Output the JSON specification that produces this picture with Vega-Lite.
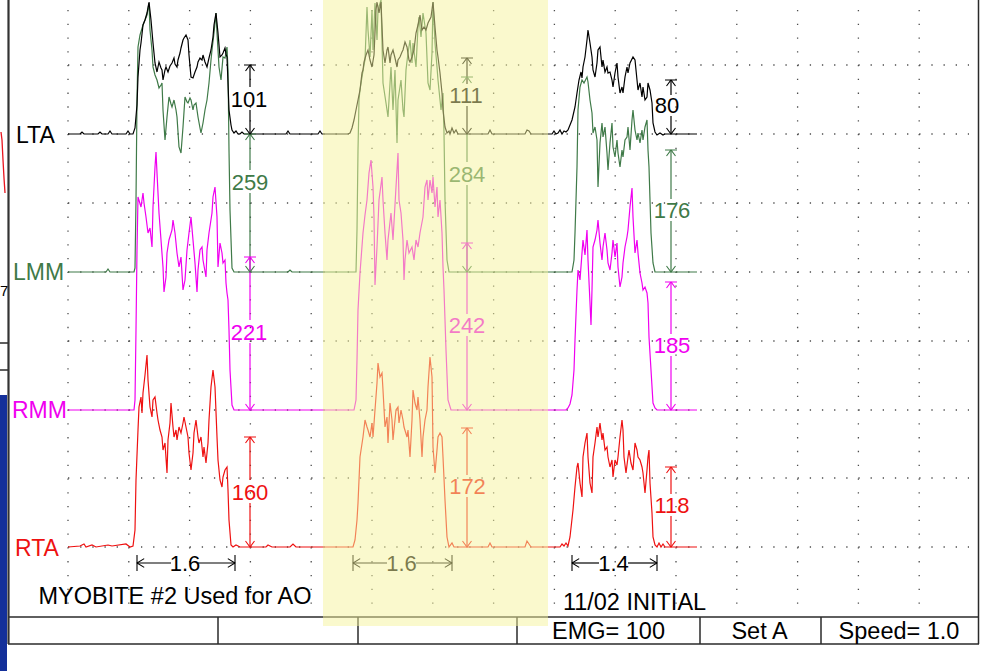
{
"$schema": "https://vega.github.io/schema/vega-lite/v6.json",
"width": 986, "height": 671,
"autosize": {"type": "none"},
"padding": 0,
"background": "#ffffff",
"config": {"view": {"stroke": null}},
"encoding": {
 "x": {"field": "x", "type": "quantitative", "scale": {"domain": [0, 986], "nice": false, "zero": false}, "axis": null},
 "y": {"field": "y", "type": "quantitative", "scale": {"domain": [0, 671], "nice": false, "zero": false, "reverse": true}, "axis": null}
},
"datasets": {
 "LTA": [{"x":68,"y":134},{"x":80,"y":134},{"x":82,"y":132},{"x":84,"y":134},{"x":98,"y":134},{"x":100,"y":132},{"x":102,"y":134},{"x":108,"y":134},{"x":110,"y":131},{"x":112,"y":134},{"x":126,"y":134},{"x":128,"y":131},{"x":130,"y":134},{"x":133,"y":134},{"x":135,"y":128},{"x":137,"y":105},{"x":138,"y":77},{"x":140,"y":50},{"x":141,"y":43},{"x":143,"y":25},{"x":145,"y":20},{"x":147,"y":13},{"x":149,"y":2},{"x":151,"y":20},{"x":153,"y":43},{"x":155,"y":63},{"x":157,"y":72},{"x":159,"y":62},{"x":161,"y":68},{"x":162,"y":70},{"x":163,"y":80},{"x":165,"y":70},{"x":166,"y":67},{"x":168,"y":72},{"x":170,"y":66},{"x":172,"y":63},{"x":174,"y":58},{"x":175,"y":64},{"x":177,"y":67},{"x":178,"y":60},{"x":180,"y":53},{"x":181,"y":48},{"x":183,"y":40},{"x":184,"y":38},{"x":186,"y":35},{"x":188,"y":40},{"x":189,"y":55},{"x":191,"y":77},{"x":193,"y":78},{"x":195,"y":72},{"x":197,"y":67},{"x":198,"y":62},{"x":200,"y":58},{"x":202,"y":60},{"x":203,"y":55},{"x":205,"y":62},{"x":207,"y":67},{"x":209,"y":58},{"x":211,"y":50},{"x":213,"y":37},{"x":214,"y":25},{"x":216,"y":13},{"x":218,"y":33},{"x":220,"y":57},{"x":222,"y":55},{"x":223,"y":53},{"x":225,"y":48},{"x":226,"y":54},{"x":227,"y":57},{"x":228,"y":83},{"x":229,"y":110},{"x":231,"y":125},{"x":232,"y":130},{"x":234,"y":133},{"x":236,"y":131},{"x":238,"y":134},{"x":240,"y":134},{"x":242,"y":132},{"x":244,"y":134},{"x":286,"y":134},{"x":288,"y":131},{"x":290,"y":134},{"x":318,"y":134},{"x":320,"y":131},{"x":322,"y":134},{"x":348,"y":134},{"x":350,"y":133},{"x":352,"y":128},{"x":354,"y":120},{"x":356,"y":110},{"x":358,"y":100},{"x":360,"y":90},{"x":362,"y":73},{"x":363,"y":70},{"x":364,"y":62},{"x":366,"y":55},{"x":368,"y":50},{"x":370,"y":60},{"x":372,"y":67},{"x":374,"y":55},{"x":376,"y":10},{"x":377,"y":2},{"x":379,"y":13},{"x":381,"y":2},{"x":383,"y":50},{"x":385,"y":63},{"x":387,"y":50},{"x":388,"y":47},{"x":390,"y":63},{"x":391,"y":55},{"x":393,"y":50},{"x":395,"y":58},{"x":397,"y":67},{"x":398,"y":60},{"x":400,"y":57},{"x":402,"y":52},{"x":403,"y":50},{"x":405,"y":42},{"x":407,"y":47},{"x":409,"y":60},{"x":410,"y":62},{"x":412,"y":57},{"x":414,"y":50},{"x":416,"y":33},{"x":418,"y":25},{"x":420,"y":15},{"x":422,"y":30},{"x":424,"y":27},{"x":426,"y":30},{"x":428,"y":23},{"x":431,"y":17},{"x":433,"y":2},{"x":435,"y":27},{"x":437,"y":50},{"x":438,"y":57},{"x":440,"y":73},{"x":442,"y":93},{"x":443,"y":110},{"x":445,"y":127},{"x":447,"y":133},{"x":449,"y":131},{"x":450,"y":134},{"x":452,"y":128},{"x":454,"y":133},{"x":456,"y":130},{"x":458,"y":134},{"x":488,"y":134},{"x":490,"y":130},{"x":492,"y":134},{"x":525,"y":134},{"x":527,"y":130},{"x":529,"y":131},{"x":531,"y":134},{"x":552,"y":134},{"x":554,"y":131},{"x":556,"y":134},{"x":558,"y":133},{"x":560,"y":130},{"x":562,"y":134},{"x":564,"y":131},{"x":566,"y":132},{"x":568,"y":130},{"x":570,"y":125},{"x":572,"y":120},{"x":575,"y":107},{"x":577,"y":93},{"x":579,"y":80},{"x":581,"y":72},{"x":582,"y":78},{"x":583,"y":67},{"x":585,"y":57},{"x":587,"y":40},{"x":588,"y":30},{"x":590,"y":43},{"x":592,"y":57},{"x":593,"y":70},{"x":595,"y":77},{"x":597,"y":63},{"x":598,"y":50},{"x":600,"y":47},{"x":602,"y":67},{"x":603,"y":60},{"x":605,"y":72},{"x":607,"y":67},{"x":608,"y":73},{"x":610,"y":72},{"x":612,"y":80},{"x":613,"y":87},{"x":615,"y":73},{"x":617,"y":63},{"x":618,"y":77},{"x":620,"y":93},{"x":622,"y":87},{"x":623,"y":93},{"x":625,"y":77},{"x":627,"y":67},{"x":628,"y":73},{"x":630,"y":63},{"x":633,"y":57},{"x":635,"y":60},{"x":637,"y":80},{"x":638,"y":90},{"x":640,"y":83},{"x":642,"y":97},{"x":643,"y":87},{"x":645,"y":100},{"x":647,"y":97},{"x":648,"y":83},{"x":650,"y":90},{"x":652,"y":103},{"x":653,"y":123},{"x":655,"y":132},{"x":657,"y":135},{"x":660,"y":133},{"x":663,"y":135},{"x":665,"y":134},{"x":697,"y":134}],
 "LMM": [{"x":68,"y":272},{"x":106,"y":272},{"x":108,"y":269},{"x":110,"y":272},{"x":134,"y":272},{"x":135,"y":268},{"x":136,"y":200},{"x":137,"y":100},{"x":138,"y":47},{"x":140,"y":35},{"x":143,"y":25},{"x":145,"y":20},{"x":147,"y":15},{"x":149,"y":3},{"x":150,"y":30},{"x":152,"y":50},{"x":153,"y":67},{"x":155,"y":75},{"x":157,"y":80},{"x":159,"y":88},{"x":161,"y":85},{"x":162,"y":83},{"x":163,"y":110},{"x":165,"y":140},{"x":167,"y":117},{"x":169,"y":97},{"x":171,"y":104},{"x":172,"y":107},{"x":174,"y":100},{"x":176,"y":110},{"x":177,"y":117},{"x":179,"y":147},{"x":181,"y":153},{"x":183,"y":127},{"x":185,"y":97},{"x":187,"y":102},{"x":188,"y":103},{"x":190,"y":98},{"x":191,"y":100},{"x":193,"y":110},{"x":194,"y":105},{"x":196,"y":103},{"x":198,"y":117},{"x":200,"y":128},{"x":201,"y":133},{"x":203,"y":123},{"x":205,"y":110},{"x":207,"y":100},{"x":209,"y":83},{"x":211,"y":60},{"x":212,"y":50},{"x":214,"y":33},{"x":216,"y":13},{"x":217,"y":33},{"x":219,"y":67},{"x":221,"y":80},{"x":223,"y":57},{"x":225,"y":58},{"x":227,"y":47},{"x":228,"y":70},{"x":229,"y":150},{"x":230,"y":210},{"x":232,"y":268},{"x":234,"y":272},{"x":288,"y":272},{"x":290,"y":270},{"x":292,"y":272},{"x":356,"y":272},{"x":357,"y":230},{"x":358,"y":150},{"x":359,"y":100},{"x":360,"y":90},{"x":362,"y":77},{"x":364,"y":65},{"x":365,"y":60},{"x":367,"y":7},{"x":368,"y":30},{"x":370,"y":57},{"x":372,"y":10},{"x":373,"y":50},{"x":375,"y":3},{"x":377,"y":40},{"x":378,"y":10},{"x":381,"y":0},{"x":383,"y":83},{"x":386,"y":103},{"x":388,"y":117},{"x":391,"y":67},{"x":393,"y":110},{"x":395,"y":70},{"x":397,"y":143},{"x":398,"y":100},{"x":401,"y":80},{"x":403,"y":110},{"x":404,"y":117},{"x":406,"y":70},{"x":408,"y":53},{"x":410,"y":40},{"x":412,"y":63},{"x":413,"y":43},{"x":416,"y":67},{"x":418,"y":27},{"x":419,"y":17},{"x":421,"y":37},{"x":423,"y":13},{"x":426,"y":33},{"x":428,"y":83},{"x":430,"y":90},{"x":432,"y":53},{"x":433,"y":2},{"x":435,"y":43},{"x":437,"y":67},{"x":438,"y":80},{"x":440,"y":100},{"x":441,"y":110},{"x":443,"y":93},{"x":444,"y":133},{"x":445,"y":200},{"x":447,"y":260},{"x":449,"y":272},{"x":572,"y":272},{"x":574,"y":260},{"x":575,"y":233},{"x":576,"y":200},{"x":577,"y":167},{"x":578,"y":110},{"x":580,"y":87},{"x":582,"y":80},{"x":584,"y":83},{"x":587,"y":77},{"x":588,"y":82},{"x":590,"y":100},{"x":592,"y":113},{"x":593,"y":133},{"x":595,"y":127},{"x":597,"y":140},{"x":598,"y":187},{"x":600,"y":143},{"x":602,"y":123},{"x":603,"y":137},{"x":605,"y":127},{"x":607,"y":153},{"x":608,"y":170},{"x":610,"y":143},{"x":612,"y":123},{"x":613,"y":147},{"x":615,"y":157},{"x":617,"y":140},{"x":618,"y":153},{"x":620,"y":167},{"x":622,"y":150},{"x":623,"y":157},{"x":625,"y":140},{"x":627,"y":137},{"x":628,"y":127},{"x":630,"y":150},{"x":632,"y":120},{"x":633,"y":110},{"x":635,"y":130},{"x":637,"y":140},{"x":638,"y":133},{"x":640,"y":143},{"x":642,"y":130},{"x":643,"y":140},{"x":645,"y":127},{"x":647,"y":120},{"x":648,"y":150},{"x":649,"y":167},{"x":651,"y":233},{"x":653,"y":263},{"x":655,"y":272},{"x":697,"y":272}],
 "RMM": [{"x":68,"y":410},{"x":134,"y":410},{"x":135,"y":400},{"x":136,"y":330},{"x":137,"y":250},{"x":138,"y":197},{"x":141,"y":207},{"x":143,"y":193},{"x":144,"y":203},{"x":146,"y":217},{"x":148,"y":233},{"x":150,"y":228},{"x":152,"y":247},{"x":153,"y":207},{"x":155,"y":167},{"x":156,"y":152},{"x":157,"y":173},{"x":159,"y":213},{"x":161,"y":240},{"x":163,"y":267},{"x":164,"y":292},{"x":166,"y":277},{"x":167,"y":253},{"x":169,"y":240},{"x":172,"y":230},{"x":173,"y":220},{"x":175,"y":233},{"x":177,"y":253},{"x":179,"y":267},{"x":181,"y":257},{"x":183,"y":290},{"x":185,"y":280},{"x":187,"y":250},{"x":189,"y":233},{"x":191,"y":217},{"x":193,"y":240},{"x":195,"y":263},{"x":197,"y":292},{"x":198,"y":270},{"x":200,"y":250},{"x":202,"y":247},{"x":203,"y":260},{"x":206,"y":277},{"x":207,"y":250},{"x":209,"y":233},{"x":212,"y":213},{"x":213,"y":197},{"x":215,"y":187},{"x":217,"y":217},{"x":218,"y":267},{"x":220,"y":243},{"x":222,"y":253},{"x":223,"y":263},{"x":225,"y":260},{"x":226,"y":283},{"x":227,"y":293},{"x":228,"y":300},{"x":229,"y":330},{"x":230,"y":370},{"x":232,"y":405},{"x":234,"y":410},{"x":354,"y":410},{"x":356,"y":400},{"x":357,"y":360},{"x":358,"y":310},{"x":360,"y":273},{"x":363,"y":233},{"x":365,"y":215},{"x":367,"y":200},{"x":369,"y":173},{"x":371,"y":160},{"x":373,"y":187},{"x":374,"y":217},{"x":375,"y":285},{"x":377,"y":247},{"x":379,"y":200},{"x":382,"y":177},{"x":383,"y":200},{"x":385,"y":233},{"x":387,"y":260},{"x":388,"y":240},{"x":391,"y":213},{"x":393,"y":240},{"x":396,"y":187},{"x":398,"y":153},{"x":399,"y":200},{"x":401,"y":213},{"x":403,"y":240},{"x":404,"y":280},{"x":405,"y":260},{"x":407,"y":240},{"x":409,"y":253},{"x":412,"y":247},{"x":414,"y":260},{"x":416,"y":240},{"x":418,"y":247},{"x":420,"y":233},{"x":423,"y":217},{"x":425,"y":187},{"x":427,"y":180},{"x":428,"y":200},{"x":430,"y":180},{"x":432,"y":193},{"x":433,"y":177},{"x":435,"y":207},{"x":437,"y":187},{"x":438,"y":217},{"x":440,"y":200},{"x":442,"y":233},{"x":443,"y":267},{"x":444,"y":290},{"x":446,"y":350},{"x":448,"y":400},{"x":451,"y":410},{"x":566,"y":410},{"x":568,"y":408},{"x":570,"y":404},{"x":572,"y":395},{"x":574,"y":370},{"x":575,"y":340},{"x":577,"y":290},{"x":578,"y":270},{"x":580,"y":280},{"x":582,"y":253},{"x":583,"y":240},{"x":585,"y":255},{"x":587,"y":230},{"x":588,"y":260},{"x":590,"y":303},{"x":591,"y":325},{"x":592,"y":290},{"x":593,"y":247},{"x":595,"y":240},{"x":597,"y":230},{"x":598,"y":220},{"x":600,"y":243},{"x":602,"y":260},{"x":603,"y":247},{"x":605,"y":233},{"x":607,"y":250},{"x":608,"y":263},{"x":610,"y":270},{"x":612,"y":253},{"x":613,"y":240},{"x":615,"y":257},{"x":617,"y":243},{"x":618,"y":267},{"x":620,"y":287},{"x":622,"y":277},{"x":623,"y":263},{"x":625,"y":247},{"x":627,"y":237},{"x":628,"y":230},{"x":630,"y":207},{"x":632,"y":188},{"x":633,"y":217},{"x":635,"y":253},{"x":637,"y":240},{"x":638,"y":253},{"x":640,"y":273},{"x":642,"y":283},{"x":643,"y":290},{"x":645,"y":287},{"x":647,"y":293},{"x":648,"y":303},{"x":649,"y":337},{"x":651,"y":370},{"x":653,"y":403},{"x":655,"y":408},{"x":657,"y":410},{"x":697,"y":410}],
 "RTA": [{"x":68,"y":547},{"x":80,"y":546},{"x":84,"y":544},{"x":86,"y":547},{"x":92,"y":545},{"x":96,"y":547},{"x":108,"y":545},{"x":112,"y":546},{"x":126,"y":544},{"x":130,"y":547},{"x":133,"y":546},{"x":135,"y":530},{"x":136,"y":480},{"x":138,"y":430},{"x":139,"y":407},{"x":141,"y":397},{"x":142,"y":413},{"x":143,"y":393},{"x":145,"y":375},{"x":147,"y":355},{"x":148,"y":380},{"x":150,"y":407},{"x":152,"y":417},{"x":153,"y":400},{"x":155,"y":397},{"x":157,"y":413},{"x":158,"y":420},{"x":160,"y":430},{"x":162,"y":437},{"x":163,"y":450},{"x":165,"y":443},{"x":167,"y":473},{"x":168,"y":440},{"x":170,"y":423},{"x":171,"y":403},{"x":173,"y":427},{"x":174,"y":437},{"x":176,"y":430},{"x":177,"y":440},{"x":179,"y":427},{"x":181,"y":433},{"x":183,"y":423},{"x":184,"y":417},{"x":186,"y":427},{"x":188,"y":437},{"x":189,"y":453},{"x":191,"y":470},{"x":193,"y":453},{"x":194,"y":433},{"x":196,"y":420},{"x":198,"y":437},{"x":199,"y":443},{"x":201,"y":437},{"x":203,"y":457},{"x":204,"y":447},{"x":206,"y":463},{"x":208,"y":443},{"x":209,"y":420},{"x":211,"y":387},{"x":213,"y":370},{"x":215,"y":387},{"x":217,"y":437},{"x":218,"y":460},{"x":220,"y":480},{"x":222,"y":487},{"x":223,"y":477},{"x":225,"y":470},{"x":227,"y":467},{"x":228,"y":490},{"x":229,"y":520},{"x":231,"y":545},{"x":233,"y":547},{"x":236,"y":545},{"x":240,"y":547},{"x":266,"y":547},{"x":268,"y":545},{"x":272,"y":547},{"x":290,"y":547},{"x":293,"y":544},{"x":296,"y":547},{"x":353,"y":547},{"x":355,"y":540},{"x":357,"y":520},{"x":358,"y":503},{"x":360,"y":457},{"x":363,"y":437},{"x":365,"y":420},{"x":367,"y":427},{"x":368,"y":430},{"x":370,"y":437},{"x":372,"y":423},{"x":373,"y":437},{"x":375,"y":410},{"x":377,"y":383},{"x":378,"y":363},{"x":380,"y":377},{"x":382,"y":373},{"x":383,"y":390},{"x":385,"y":427},{"x":387,"y":417},{"x":388,"y":443},{"x":390,"y":403},{"x":392,"y":420},{"x":393,"y":440},{"x":396,"y":410},{"x":398,"y":407},{"x":399,"y":423},{"x":401,"y":410},{"x":403,"y":420},{"x":404,"y":427},{"x":407,"y":437},{"x":408,"y":430},{"x":410,"y":457},{"x":412,"y":420},{"x":413,"y":390},{"x":415,"y":403},{"x":417,"y":410},{"x":418,"y":397},{"x":420,"y":420},{"x":422,"y":457},{"x":423,"y":437},{"x":425,"y":420},{"x":427,"y":410},{"x":428,"y":387},{"x":430,"y":357},{"x":432,"y":377},{"x":433,"y":447},{"x":435,"y":473},{"x":437,"y":450},{"x":438,"y":437},{"x":440,"y":433},{"x":442,"y":437},{"x":443,"y":457},{"x":445,"y":500},{"x":447,"y":537},{"x":449,"y":547},{"x":452,"y":543},{"x":454,"y":547},{"x":488,"y":547},{"x":490,"y":543},{"x":492,"y":547},{"x":525,"y":547},{"x":527,"y":541},{"x":529,"y":544},{"x":531,"y":547},{"x":560,"y":547},{"x":562,"y":544},{"x":564,"y":546},{"x":566,"y":543},{"x":568,"y":546},{"x":570,"y":537},{"x":573,"y":510},{"x":575,"y":487},{"x":577,"y":467},{"x":578,"y":463},{"x":580,"y":483},{"x":582,"y":497},{"x":583,"y":457},{"x":585,"y":443},{"x":587,"y":433},{"x":588,"y":457},{"x":590,"y":483},{"x":592,"y":493},{"x":593,"y":457},{"x":595,"y":443},{"x":597,"y":427},{"x":598,"y":437},{"x":600,"y":423},{"x":602,"y":440},{"x":603,"y":433},{"x":605,"y":450},{"x":607,"y":447},{"x":608,"y":457},{"x":610,"y":467},{"x":612,"y":460},{"x":613,"y":477},{"x":615,"y":460},{"x":617,"y":465},{"x":618,"y":457},{"x":620,"y":437},{"x":622,"y":420},{"x":623,"y":430},{"x":624,"y":457},{"x":626,"y":473},{"x":628,"y":457},{"x":629,"y":450},{"x":631,"y":463},{"x":633,"y":470},{"x":635,"y":443},{"x":637,"y":450},{"x":638,"y":457},{"x":640,"y":460},{"x":642,"y":467},{"x":643,"y":473},{"x":645,"y":493},{"x":647,"y":470},{"x":648,"y":457},{"x":649,"y":450},{"x":650,"y":483},{"x":652,"y":513},{"x":653,"y":537},{"x":655,"y":545},{"x":657,"y":547},{"x":659,"y":543},{"x":661,"y":547},{"x":663,"y":544},{"x":665,"y":547},{"x":697,"y":547}],
 "edgeTrace": [{"x":1,"y":132},{"x":2,"y":140},{"x":3,"y":160},{"x":4,"y":178},{"x":5,"y":193}],
 "gridRows": [{"y":65,"x":68,"x2":969},{"y":134,"x":68,"x2":969},{"y":203,"x":68,"x2":969},{"y":272,"x":68,"x2":969},{"y":341,"x":68,"x2":969},{"y":410,"x":68,"x2":969},{"y":478,"x":68,"x2":969},{"y":547,"x":68,"x2":969}],
 "gridCols": [{"x":68,"y":9.9,"y2":616},{"x":128.8,"y":9.9,"y2":616},{"x":189.6,"y":9.9,"y2":616},{"x":250.4,"y":9.9,"y2":616},{"x":311.2,"y":9.9,"y2":616},{"x":372,"y":9.9,"y2":616},{"x":432.8,"y":9.9,"y2":616},{"x":493.6,"y":9.9,"y2":616},{"x":554.4,"y":9.9,"y2":616},{"x":615.2,"y":9.9,"y2":616},{"x":676,"y":9.9,"y2":616},{"x":736.8,"y":9.9,"y2":616},{"x":797.6,"y":9.9,"y2":616},{"x":858.4,"y":9.9,"y2":616},{"x":919.2,"y":9.9,"y2":616}],
 "hLines": [{"x":8,"x2":979,"y":617},{"x":8,"x2":979,"y":644},{"x":0,"x2":8,"y":343},{"x":0,"x2":8,"y":370}],
 "vLines": [{"x":218,"y":617,"y2":644},{"x":358,"y":617,"y2":644},{"x":517,"y":617,"y2":644},{"x":700,"y":617,"y2":644},{"x":821,"y":617,"y2":644},{"x":978.5,"y":0,"y2":644}],
 "ampLines": [
  {"ch":"LTA","x":250,"y":65,"y2":87},{"ch":"LTA","x":250,"y":110,"y2":134},
  {"ch":"LMM","x":250,"y":134,"y2":170},{"ch":"LMM","x":250,"y":193,"y2":272},
  {"ch":"RMM","x":250,"y":257,"y2":320},{"ch":"RMM","x":250,"y":343,"y2":410},
  {"ch":"RTA","x":250,"y":437,"y2":480},{"ch":"RTA","x":250,"y":503,"y2":547},
  {"ch":"LTA","x":467,"y":58,"y2":84},{"ch":"LTA","x":467,"y":106,"y2":134},
  {"ch":"LMM","x":467,"y":134,"y2":162},{"ch":"LMM","x":467,"y":185,"y2":272},
  {"ch":"RMM","x":467,"y":243,"y2":314},{"ch":"RMM","x":467,"y":336,"y2":410},
  {"ch":"RTA","x":467,"y":428,"y2":475},{"ch":"RTA","x":467,"y":497,"y2":547},
  {"ch":"LTA","x":671,"y":80,"y2":95},{"ch":"LTA","x":671,"y":116,"y2":134},
  {"ch":"LMM","x":671,"y":150,"y2":199},{"ch":"LMM","x":671,"y":221,"y2":272},
  {"ch":"RMM","x":671,"y":282,"y2":334},{"ch":"RMM","x":671,"y":356,"y2":410},
  {"ch":"RTA","x":671,"y":467,"y2":494},{"ch":"RTA","x":671,"y":516,"y2":547}],
 "capTop": [{"ch":"LTA","x":250,"y":65},{"ch":"LMM","x":250,"y":134},{"ch":"RMM","x":250,"y":257},{"ch":"RTA","x":250,"y":437},{"ch":"LMM","x":467,"y":77},{"ch":"LTA","x":467,"y":58},{"ch":"RMM","x":467,"y":243},{"ch":"RTA","x":467,"y":428},{"ch":"LTA","x":671,"y":80},{"ch":"LMM","x":671,"y":150},{"ch":"RMM","x":671,"y":282},{"ch":"RTA","x":671,"y":467}],
 "capBot": [{"ch":"LTA","x":250,"y":134},{"ch":"LMM","x":250,"y":272},{"ch":"RMM","x":250,"y":410},{"ch":"RTA","x":250,"y":547},{"ch":"LTA","x":467,"y":134},{"ch":"LMM","x":467,"y":272},{"ch":"RMM","x":467,"y":410},{"ch":"RTA","x":467,"y":547},{"ch":"LTA","x":671,"y":134},{"ch":"LMM","x":671,"y":272},{"ch":"RMM","x":671,"y":410},{"ch":"RTA","x":671,"y":547}],
 "ampText": [{"ch":"LTA","x":249,"y":106.5,"label":"101"},{"ch":"LMM","x":250,"y":190,"label":"259"},{"ch":"RMM","x":249,"y":340,"label":"221"},{"ch":"RTA","x":250,"y":500,"label":"160"},{"ch":"LTA","x":466,"y":103,"label":"111"},{"ch":"LMM","x":467,"y":182,"label":"284"},{"ch":"RMM","x":467,"y":333,"label":"242"},{"ch":"RTA","x":467.5,"y":494,"label":"172"},{"ch":"LTA","x":667,"y":113,"label":"80"},{"ch":"LMM","x":672,"y":218,"label":"176"},{"ch":"RMM","x":672,"y":353,"label":"185"},{"ch":"RTA","x":672,"y":513,"label":"118"}],
 "chLabels": [{"ch":"LTA","x":16,"y":143,"label":"LTA"},{"ch":"LMM","x":13,"y":280,"label":"LMM"},{"ch":"RMM","x":12,"y":418,"label":"RMM"},{"ch":"RTA","x":15,"y":556,"label":"RTA"}],
 "durLines": [{"x":137,"x2":171,"y":563},{"x":198,"x2":235,"y":563},{"x":353,"x2":387,"y":563},{"x":416,"x2":452,"y":563},{"x":572,"x2":599,"y":563},{"x":628,"x2":657,"y":563}],
 "durL": [{"x":137,"y":563},{"x":353,"y":563},{"x":572,"y":563}],
 "durR": [{"x":235,"y":563},{"x":452,"y":563},{"x":657,"y":563}],
 "durText": [{"x":185,"y":571,"label":"1.6"},{"x":401.5,"y":571,"label":"1.6"},{"x":613.5,"y":571,"label":"1.4"}],
 "notes": [{"x":175,"y":604,"label":"MYOBITE #2 Used for AO"},{"x":634.5,"y":610,"label":"11/02 INITIAL"},{"x":608.5,"y":639,"label":"EMG= 100"},{"x":759.5,"y":639,"label":"Set A"},{"x":899,"y":639,"label":"Speed= 1.0"}]
},
"layer": [
 {"data": {"values": [{"x":0,"x2":7,"y":395,"y2":671}]}, "mark": {"type":"rect","color":"#14309a"}, "encoding": {"x2":{"field":"x2"},"y2":{"field":"y2"}}},
 {"data": {"name":"edgeTrace"}, "mark": {"type":"line","color":"#e8141e","strokeWidth":1.3}, "encoding": {}},
 {"data": {"values": [{"x":0,"y":296,"label":"7"}]}, "mark": {"type":"text","font":"Liberation Sans","fontSize":15,"align":"left","baseline":"alphabetic","color":"#000000"}, "encoding": {"text":{"field":"label"}}},
 {"data": {"name":"gridRows"}, "mark": {"type":"rule","color":"#4d4d4d","strokeWidth":1.3,"strokeDash":[1.3,10.86]}, "encoding": {"x2":{"field":"x2"}}},
 {"data": {"name":"gridCols"}, "mark": {"type":"rule","color":"#4d4d4d","strokeWidth":1.3,"strokeDash":[1.3,12.48]}, "encoding": {"y2":{"field":"y2"}}},
 {"data": {"name":"hLines"}, "mark": {"type":"rule","color":"#2a2a2a","strokeWidth":1.5}, "encoding": {"x2":{"field":"x2"}}},
 {"data": {"name":"vLines"}, "mark": {"type":"rule","color":"#2a2a2a","strokeWidth":1.5}, "encoding": {"y2":{"field":"y2"}}},
 {"data": {"values": [{"x":8.5,"y":0,"y2":644}]}, "mark": {"type":"rule","color":"#333333","strokeWidth":2.2}, "encoding": {"y2":{"field":"y2"}}},
 {"data": {"name":"RTA"}, "mark": {"type":"line","color":"#ee1111","strokeWidth":1.2}, "encoding": {}},
 {"data": {"name":"RMM"}, "mark": {"type":"line","color":"#f000f0","strokeWidth":1.2}, "encoding": {}},
 {"data": {"name":"LMM"}, "mark": {"type":"line","color":"#3f7a48","strokeWidth":1.2}, "encoding": {}},
 {"data": {"name":"LTA"}, "mark": {"type":"line","color":"#000000","strokeWidth":1.2}, "encoding": {}},
 {"data": {"name":"ampLines"}, "mark": {"type":"rule","strokeWidth":1.2}, "encoding": {"y2":{"field":"y2"},"color":{"field":"ch","type":"nominal","legend":null,"scale":{"domain":["LTA","LMM","RMM","RTA"],"range":["#000000","#3f7a48","#f000f0","#ee1111"]}}}},
 {"data": {"name":"capTop"}, "mark": {"type":"point","shape":"M-1,0L1,0M-0.75,1L0,0L0.75,1","filled":false,"size":144,"strokeWidth":1.1,"opacity":1}, "encoding": {"color":{"field":"ch","type":"nominal","legend":null,"scale":{"domain":["LTA","LMM","RMM","RTA"],"range":["#000000","#3f7a48","#f000f0","#ee1111"]}}}},
 {"data": {"name":"capBot"}, "mark": {"type":"point","shape":"M-0.75,-1L0,0L0.75,-1","filled":false,"size":144,"strokeWidth":1.1,"opacity":1}, "encoding": {"color":{"field":"ch","type":"nominal","legend":null,"scale":{"domain":["LTA","LMM","RMM","RTA"],"range":["#000000","#3f7a48","#f000f0","#ee1111"]}}}},
 {"data": {"name":"ampText"}, "mark": {"type":"text","font":"Liberation Sans","fontSize":22,"align":"center","baseline":"alphabetic"}, "encoding": {"text":{"field":"label"},"color":{"field":"ch","type":"nominal","legend":null,"scale":{"domain":["LTA","LMM","RMM","RTA"],"range":["#000000","#3f7a48","#f000f0","#ee1111"]}}}},
 {"data": {"name":"chLabels"}, "mark": {"type":"text","font":"Liberation Sans","fontSize":23,"align":"left","baseline":"alphabetic"}, "encoding": {"text":{"field":"label"},"color":{"field":"ch","type":"nominal","legend":null,"scale":{"domain":["LTA","LMM","RMM","RTA"],"range":["#000000","#3f7a48","#f000f0","#ee1111"]}}}},
 {"data": {"name":"durLines"}, "mark": {"type":"rule","color":"#000000","strokeWidth":1.2}, "encoding": {"x2":{"field":"x2"}}},
 {"data": {"name":"durL"}, "mark": {"type":"point","shape":"M0,-1L0,1M0.9,-0.55L0,0L0.9,0.55","filled":false,"size":256,"strokeWidth":1.1,"opacity":1,"color":"#000000"}, "encoding": {}},
 {"data": {"name":"durR"}, "mark": {"type":"point","shape":"M0,-1L0,1M-0.9,-0.55L0,0L-0.9,0.55","filled":false,"size":256,"strokeWidth":1.1,"opacity":1,"color":"#000000"}, "encoding": {}},
 {"data": {"name":"durText"}, "mark": {"type":"text","font":"Liberation Sans","fontSize":22,"align":"center","baseline":"alphabetic","color":"#000000"}, "encoding": {"text":{"field":"label"}}},
 {"data": {"name":"notes"}, "mark": {"type":"text","font":"Liberation Sans","fontSize":23.5,"align":"center","baseline":"alphabetic","color":"#000000"}, "encoding": {"text":{"field":"label"}}},
 {"data": {"values": [{"x":323,"x2":548,"y":0,"y2":626}]}, "mark": {"type":"rect","color":"#F5F39B","opacity":0.5}, "encoding": {"x2":{"field":"x2"},"y2":{"field":"y2"}}}
]
}
